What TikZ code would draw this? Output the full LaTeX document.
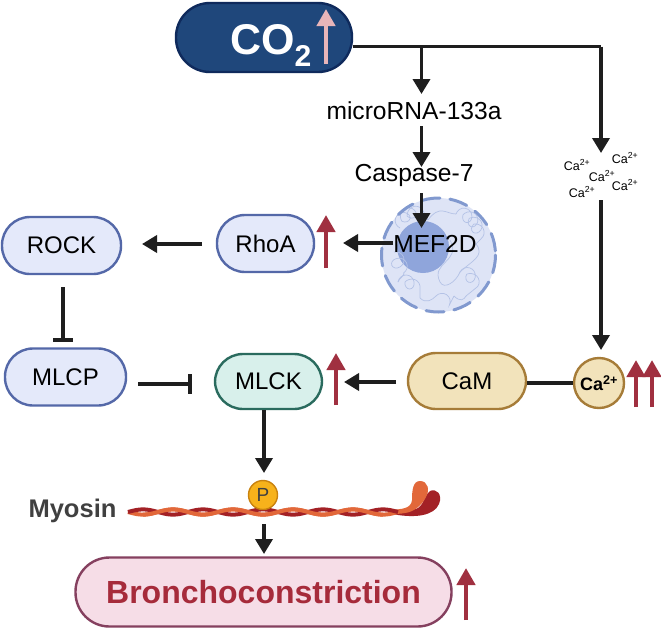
\documentclass[tikz,border=0pt]{standalone}
\usepackage{fontspec}
\setmainfont{Liberation Sans}
\usetikzlibrary{arrows.meta,decorations.pathmorphing}
\definecolor{coblue}{HTML}{1F477B}
\definecolor{coedge}{HTML}{0F2A5C}
\definecolor{copink}{HTML}{E8B5B9}
\definecolor{lav}{HTML}{E4E9FA}
\definecolor{lavedge}{HTML}{5468A8}
\definecolor{mint}{HTML}{D8F0EB}
\definecolor{mintedge}{HTML}{2A6B5E}
\definecolor{sand}{HTML}{F2E3BB}
\definecolor{sandedge}{HTML}{A67C38}
\definecolor{rose}{HTML}{F6DDE7}
\definecolor{roseedge}{HTML}{85405F}
\definecolor{upred}{HTML}{A03040}
\definecolor{brred}{HTML}{A62B3B}
\definecolor{ink}{HTML}{1E1E1E}
\definecolor{nucfill}{HTML}{DEE4F6}
\definecolor{nucedge}{HTML}{8199CF}
\definecolor{nucin}{HTML}{8FA5DB}
\definecolor{coil}{HTML}{B4C2E6}
\definecolor{strandA}{HTML}{E2683A}
\definecolor{strandB}{HTML}{A32126}
\definecolor{phos}{HTML}{F7B21B}
\definecolor{phosedge}{HTML}{C9820F}
\tikzset{
  pill/.style={rounded corners=28pt,draw=lavedge,fill=lav,line width=2.4pt,inner sep=0pt,font=\fontsize{24}{26}\selectfont,text=black},
  flow/.style={draw=ink,line width=3.6pt,-{Triangle[length=15pt,width=17pt]}},
  plainline/.style={draw=ink,line width=3.6pt},
  block/.style={draw=ink,line width=3.6pt,-{Bar[width=20pt,line width=4pt]}},
  rise/.style={draw=upred,line width=4.6pt,-{Triangle[length=17pt,width=18pt]}},
  label/.style={inner sep=0pt,font=\fontsize{24.6}{26}\selectfont,text=black},
  ion/.style={inner sep=0pt,font=\fontsize{12.5}{14}\selectfont,text=black},
  coiled/.style={decorate,decoration={coil,segment length=7pt,amplitude=7pt,aspect=0.9}},
}
\begin{document}
\begin{tikzpicture}[x=1pt,y=-1pt]
\useasboundingbox (0,0) rectangle (661,630);
\fill[white] (0,0) rectangle (661,630);

% Nucleus behind the MEF2D label
\fill[nucfill] (438.5,255) circle (57);
\fill[nucin] (423,247) circle (26);
\begin{scope}[coil,line width=0.7pt]
  \draw[coiled] (400,228) .. controls (404,214) and (418,212) .. (428,220);
  \draw[coiled] (456,214) .. controls (470,216) and (478,226) .. (476,244);
  \draw[coiled] (394,252) .. controls (398,262) and (402,268) .. (404,274);
  \draw[coiled] (398,282) .. controls (408,282) and (416,290) .. (420,298);
  \draw[coiled] (460,272) .. controls (472,276) and (472,288) .. (466,296);
  \draw[coiled] (436,296) .. controls (442,300) and (450,300) .. (454,296);
  \draw (428,220) .. controls (440,204) and (446,214) .. (456,214);
  \draw (476,244) .. controls (486,256) and (470,262) .. (460,272);
  \draw (404,274) .. controls (400,280) and (398,280) .. (398,282);
  \draw (420,298) .. controls (426,304) and (432,300) .. (436,296);
  \draw (454,296) .. controls (460,302) and (464,300) .. (466,296);
  \draw (450,240) .. controls (462,262) and (430,262) .. (440,282)
        .. controls (444,290) and (456,282) .. (460,272);
\end{scope}
\draw[nucedge,line width=3pt,dash pattern=on 18pt off 10pt,line cap=round] (438.5,255) circle (57);

% Main nodes
\node[pill,draw=coedge,fill=coblue,minimum width=176pt,minimum height=69pt,rounded corners=34pt] (co2) at (264,37.5) {};
\node[anchor=base,inner sep=0pt,text=white,font=\bfseries\fontsize{43}{46}\selectfont] (cotext) at (271,54) {CO\textsubscript{2}};
\node[label] (mir) at (414,111) {microRNA-133a};
\node[label] (casp) at (414,175) {Caspase-7};
\node[label] (mef) at (435,244) {MEF2D};
\node[pill,minimum width=97pt,minimum height=57pt] (rhoa) at (265.5,243.5) {RhoA};
\node[pill,minimum width=119pt,minimum height=57pt] (rock) at (61.5,245.5) {ROCK};
\node[pill,minimum width=121pt,minimum height=57pt] (mlcp) at (65.5,377) {MLCP};
\node[pill,draw=mintedge,fill=mint,minimum width=107pt,minimum height=55pt] (mlck) at (268.5,381.5) {MLCK};
\node[pill,draw=sandedge,fill=sand,minimum width=118pt,minimum height=56pt] (cam) at (467,381) {CaM};
\node[circle,draw=sandedge,fill=sand,line width=2.4pt,minimum size=50pt,inner sep=0pt,font=\bfseries\fontsize{18}{20}\selectfont] (ca) at (599,383) {Ca\textsuperscript{2+}};
\node[pill,draw=roseedge,fill=rose,minimum width=376pt,minimum height=69pt,rounded corners=34pt,text=brred,font=\bfseries\fontsize{32}{36}\selectfont] (broncho) at (263.5,592) {Bronchoconstriction};

% Free calcium ions
\node[ion] (ion1) at (577,165) {Ca\textsuperscript{2+}};
\node[ion] (ion2) at (625,158) {Ca\textsuperscript{2+}};
\node[ion] (ion3) at (602,176) {Ca\textsuperscript{2+}};
\node[ion] (ion4) at (582,192) {Ca\textsuperscript{2+}};
\node[ion] (ion5) at (625,185) {Ca\textsuperscript{2+}};

% Myosin filament: two twisted strands and the paired heads
\fill[strandB] (395,514.5) .. controls (415,518) and (434,516) .. (439,504)
  .. controls (443,494) and (436,488) .. (430,491)
  .. controls (424,495) and (425,503) .. (418,508)
  .. controls (412,511) and (402,510) .. (395,510) -- cycle;
\fill[strandA] (390,510) .. controls (402,509) and (411,509) .. (412,500)
  .. controls (412,490) and (413,481) .. (420,481)
  .. controls (428,481) and (430,490) .. (426,497)
  .. controls (422,505) and (414,512) .. (405,513)
  .. controls (400,514) and (395,514) .. (390,514) -- cycle;
\draw[strandA,line width=4pt] plot[domain=128:398,samples=100,smooth] (\x,{512+2.6*sin(6*(\x-128))});
\draw[strandB,line width=4pt] plot[domain=128:398,samples=100,smooth] (\x,{512-2.6*sin(6*(\x-128))});
\foreach \a in {143,203,263,323}{
  \draw[strandA,line width=4pt] plot[domain=\a:\a+60,samples=24,smooth] (\x,{512+2.6*sin(6*(\x-128))});
}
\node[circle,draw=phosedge,fill=phos,line width=1.4pt,minimum size=29pt,inner sep=0pt,text=black!75,font=\fontsize{19}{21}\selectfont] (phospho) at (263,495) {P};
\node[inner sep=0pt,text=black!75,font=\bfseries\fontsize{25.5}{27}\selectfont] (myosin) at (72.5,511) {Myosin};

% Anchor points of the connectors
\coordinate (coout) at (co2.east |- 0,46.5);
\coordinate (branch) at (421.5,46.5);
\coordinate (corner) at (601,46.5);
\coordinate (mirin) at (421.5,94);
\coordinate (mirout) at (421.5,126);
\coordinate (caspin) at (421.5,167);
\coordinate (caspout) at (421.5,193);
\coordinate (mefin) at (421.5,228);
\coordinate (mefout) at (393,243);
\coordinate (rhoin) at (343,243);
\coordinate (rhoout) at (202,244);
\coordinate (rockin) at (142,244);
\coordinate (rockout) at (62.7,287);
\coordinate (mlcpin) at (62.7,342);
\coordinate (mlcpout) at (138,384);
\coordinate (mlckin) at (192,384);
\coordinate (camout) at (396,382);
\coordinate (mlckcam) at (344,382);
\coordinate (ionin) at (601,153);
\coordinate (ionout) at (601,200);
\coordinate (cain) at (601,350);
\coordinate (mlckout) at (264,410);
\coordinate (pin) at (264,473);
\coordinate (filout) at (264,524);
\coordinate (brin) at (264,554);

% Connectors
\draw[plainline] (coout) -- (corner);
\draw[flow] (corner) -- (ionin);
\draw[flow] (branch) -- (mirin);
\draw[flow] (mirout) -- (caspin);
\draw[flow] (caspout) -- (mefin);
\draw[flow] (mefout) -- (rhoin);
\draw[flow] (rhoout) -- (rockin);
\draw[block] (rockout) -- (mlcpin);
\draw[block] (mlcpout) -- (mlckin);
\draw[flow] (camout) -- (mlckcam);
\draw[plainline] (cam.east |- ca.west) -- (ca.west);
\draw[flow] (ionout) -- (cain);
\draw[flow] (mlckout) -- (pin);
\draw[flow] (filout) -- (brin);

% Upregulation marks
\coordinate (cob) at (326,64); \coordinate (cot) at (326,9);
\coordinate (rhob) at (326,268); \coordinate (rhot) at (326,215);
\coordinate (mlb) at (336,405); \coordinate (mlt) at (336,353);
\coordinate (cab) at (636,407); \coordinate (cat) at (636,360);
\coordinate (cbb) at (652,407); \coordinate (cbt) at (652,360);
\coordinate (brb) at (466,620); \coordinate (brt) at (466,568);
\draw[rise,draw=copink] (cob) -- (cot);
\draw[rise] (rhob) -- (rhot);
\draw[rise] (mlb) -- (mlt);
\draw[rise] (cab) -- (cat);
\draw[rise] (cbb) -- (cbt);
\draw[rise] (brb) -- (brt);
\end{tikzpicture}
\end{document}
